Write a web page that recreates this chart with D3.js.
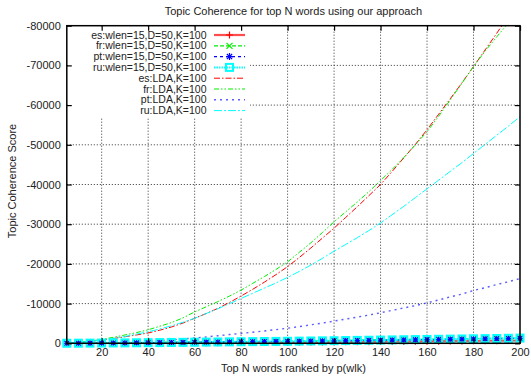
<!DOCTYPE html>
<html>
<head>
<meta charset="utf-8">
<script src="https://cdn.jsdelivr.net/npm/d3@7"></script>
<style>
body { margin: 0; background: #fff; }
text { font-family: "Liberation Sans", Arial, sans-serif; fill: #222; }
</style>
</head>
<body>
<script>
const w = 531;
const h = 377;

// data (x = top N words, every 5)
const topN = [5,10,15,20,25,30,35,40,45,50,55,60,65,70,75,80,85,90,95,100,
	105,110,115,120,125,130,135,140,145,150,155,160,165,170,175,180,185,190,195,200];

const esWlen = [-5,-10,-20,-30,-40,-50,-60,-75,-90,-105,-120,-135,-150,-165,-180,-195,-210,-230,-250,-270,
	-290,-310,-330,-350,-370,-390,-410,-430,-450,-475,-500,-520,-545,-570,-595,-620,-645,-670,-690,-710];
const frWlen = [-10,-25,-45,-70,-95,-120,-145,-170,-200,-230,-260,-290,-320,-350,-385,-420,-455,-490,-525,-560,
	-595,-630,-670,-710,-750,-790,-830,-870,-910,-950,-990,-1030,-1070,-1110,-1150,-1190,-1230,-1270,-1310,-1350];
const ptWlen = [-10,-20,-40,-60,-80,-100,-125,-150,-175,-200,-230,-260,-290,-320,-350,-380,-410,-440,-470,-500,
	-530,-565,-600,-635,-670,-705,-740,-775,-810,-845,-880,-920,-960,-1000,-1040,-1080,-1120,-1160,-1200,-1240];
const ruWlen = [-10,-25,-45,-65,-85,-105,-130,-155,-180,-210,-240,-270,-300,-330,-360,-390,-420,-450,-480,-510,
	-545,-580,-615,-650,-690,-730,-770,-810,-850,-890,-930,-970,-1010,-1050,-1090,-1130,-1170,-1210,-1260,-1310];

const esLDA = [-50,-180,-420,-800,-1200,-1650,-2100,-2600,-3300,-4100,-5100,-6300,-7500,-8800,-10300,-11900,-13600,-15400,-17300,-19300,
	-21600,-24000,-26500,-29000,-31700,-34400,-37200,-40000,-43300,-46700,-50100,-53800,-57700,-61600,-65600,-69700,-73900,-78100,-82400,-86800];
const frLDA = [-60,-250,-550,-1000,-1500,-2100,-2700,-3400,-4300,-5200,-6400,-7900,-9200,-10500,-11900,-13400,-15100,-16800,-18600,-20500,
	-22900,-25300,-27900,-30600,-33100,-35600,-38200,-41000,-43800,-46800,-50000,-53300,-57200,-61300,-65500,-69700,-73600,-77200,-80700,-84300];
const ptLDA = [-10,-30,-70,-130,-200,-300,-420,-560,-720,-900,-1100,-1350,-1600,-1900,-2200,-2500,-2800,-3100,-3450,-3800,
	-4200,-4650,-5100,-5600,-6100,-6600,-7100,-7700,-8300,-8900,-9500,-10200,-10900,-11700,-12400,-13300,-14000,-14800,-15500,-16300];
const ruLDA = [-50,-200,-450,-800,-1200,-1700,-2300,-2900,-3600,-4400,-5300,-6300,-7500,-8700,-10000,-11300,-12600,-13900,-15200,-16600,
	-18100,-19700,-21400,-23200,-24900,-26600,-28400,-30300,-32400,-34500,-36700,-38900,-41100,-43300,-45500,-47800,-50100,-52400,-54700,-57100];

const xTicks = [20,40,60,80,100,120,140,160,180,200];
const yTicks = [0,-10000,-20000,-30000,-40000,-50000,-60000,-70000,-80000];

const series = [
	{ name: 'es:wlen=15,D=50,K=100', values: esWlen, color: '#ff0000', width: 2.2, opacity: 0.7, dash: null, marker: 'plus' },
	{ name: 'fr:wlen=15,D=50,K=100', values: frWlen, color: '#00ee00', width: 1.2, opacity: 1, dash: '4,2', marker: 'cross' },
	{ name: 'pt:wlen=15,D=50,K=100', values: ptWlen, color: '#0000ff', width: 1.2, opacity: 1, dash: '3,3', marker: 'star' },
	{ name: 'ru:wlen=15,D=50,K=100', values: ruWlen, color: '#00ffff', width: 2, opacity: 1, dash: '1.5,1', marker: 'square' },
	{ name: 'es:LDA,K=100', values: esLDA, color: '#ff0000', width: 1, opacity: 1, dash: '6,2,1.5,2', marker: null },
	{ name: 'fr:LDA,K=100', values: frLDA, color: '#00ee00', width: 1, opacity: 1, dash: '5,2,1.5,2,1.5,2', marker: null },
	{ name: 'pt:LDA,K=100', values: ptLDA, color: '#3333ff', width: 1.4, opacity: 0.8, dash: '2,4', marker: null },
	{ name: 'ru:LDA,K=100', values: ruLDA, color: '#00ffff', width: 1, opacity: 1, dash: '8,2,2,2', marker: null }
];

const plotL = 66.8, plotR = 520, plotT = 25.7, plotB = 343.3;

const x = d3.scaleLinear().domain([5, 200]).range([plotL, plotR]);
const y = d3.scaleLinear().domain([0, -80000]).range([plotB, plotT]);

const svg = d3.select('body').append('svg')
	.attr('width', w)
	.attr('height', h);

svg.append('defs').append('clipPath')
	.attr('id', 'plot-clip')
	.append('rect')
	.attr('x', plotL)
	.attr('y', plotT)
	.attr('width', plotR - plotL)
	.attr('height', plotB - plotT);

// grid
const grid = svg.append('g');
grid.selectAll('.vgrid')
	.data(xTicks.filter(d => d < 200))
	.enter()
	.append('line')
	.attr('x1', d => x(d))
	.attr('x2', d => x(d))
	.attr('y1', plotT)
	.attr('y2', plotB)
	.attr('stroke', '#333')
	.attr('stroke-width', 1)
	.attr('stroke-dasharray', '1,2');
grid.selectAll('.hgrid')
	.data(yTicks.filter(d => d !== 0 && d !== -80000))
	.enter()
	.append('line')
	.attr('x1', plotL)
	.attr('x2', plotR)
	.attr('y1', d => y(d))
	.attr('y2', d => y(d))
	.attr('stroke', '#333')
	.attr('stroke-width', 1)
	.attr('stroke-dasharray', '1,2');

// legend background hides grid behind it
svg.append('rect')
	.attr('x', plotL + 1)
	.attr('y', plotT + 1)
	.attr('width', 249 - plotL)
	.attr('height', 116 - plotT)
	.attr('fill', '#fff');

function drawMarker(g, type, cx, cy, color) {
	const s = 3.5;
	if (type === 'plus' || type === 'star') {
		g.append('path')
			.attr('d', `M${cx - s},${cy}H${cx + s}M${cx},${cy - s}V${cy + s}`)
			.attr('stroke', color).attr('stroke-width', 1.2).attr('fill', 'none');
	}
	if (type === 'cross' || type === 'star') {
		const k = type === 'star' ? 2.6 : 3;
		g.append('path')
			.attr('d', `M${cx - k},${cy - k}L${cx + k},${cy + k}M${cx - k},${cy + k}L${cx + k},${cy - k}`)
			.attr('stroke', color).attr('stroke-width', 1.2).attr('fill', 'none');
	}
	if (type === 'square') {
		g.append('rect')
			.attr('x', cx - 3.5).attr('y', cy - 3.5)
			.attr('width', 7).attr('height', 7)
			.attr('fill', 'none')
			.attr('stroke', color).attr('stroke-width', 2);
	}
}

const line = d3.line()
	.x((d, i) => x(topN[i]))
	.y(d => y(d));

const plot = svg.append('g').attr('clip-path', 'url(#plot-clip)');

series.forEach(s => {
	plot.append('path')
		.datum(s.values)
		.attr('d', line)
		.attr('fill', 'none')
		.attr('stroke', s.color)
		.attr('stroke-width', s.width)
		.attr('stroke-opacity', s.opacity)
		.attr('stroke-dasharray', s.dash);
	if (s.marker) {
		const mg = svg.append('g');
		s.values.forEach((v, i) => drawMarker(mg, s.marker, x(topN[i]), y(v), s.color));
	}
});

// legend
const legend = svg.append('g').attr('id', 'legend');
series.forEach((s, i) => {
	const ly = 35 + i * 10.8;
	legend.append('text')
		.attr('x', 206.5)
		.attr('y', ly)
		.attr('dy', '0.35em')
		.attr('text-anchor', 'end')
		.style('font-size', '10.5px')
		.text(s.name);
	legend.append('line')
		.attr('x1', 214)
		.attr('x2', 245)
		.attr('y1', ly)
		.attr('y2', ly)
		.attr('stroke', s.color)
		.attr('stroke-width', s.width)
		.attr('stroke-opacity', s.opacity)
		.attr('stroke-dasharray', s.dash);
	if (s.marker) drawMarker(legend, s.marker, 229.5, ly, s.color);
});

// axes (inward ticks, mirrored)
const fmt = d => String(d);
svg.append('g')
	.attr('transform', `translate(0,${plotB})`)
	.call(d3.axisBottom(x).tickValues(xTicks).tickSize(-5).tickPadding(5).tickFormat(fmt))
	.call(g => g.select('.domain').remove())
	.call(g => g.selectAll('text').style('font-size', '11px').attr('fill', '#222'));
svg.append('g')
	.attr('transform', `translate(0,${plotT})`)
	.call(d3.axisTop(x).tickValues(xTicks).tickSize(-5).tickFormat(''))
	.call(g => g.select('.domain').remove());
svg.append('g')
	.attr('transform', `translate(${plotL},0)`)
	.call(d3.axisLeft(y).tickValues(yTicks).tickSize(-5).tickPadding(6).tickFormat(fmt))
	.call(g => g.select('.domain').remove())
	.call(g => g.selectAll('text').style('font-size', '11px').attr('fill', '#222'));
svg.append('g')
	.attr('transform', `translate(${plotR},0)`)
	.call(d3.axisRight(y).tickValues(yTicks).tickSize(-5).tickFormat(''))
	.call(g => g.select('.domain').remove());

svg.selectAll('.tick line').attr('stroke', '#000').attr('stroke-width', 1.2);

svg.append('rect')
	.attr('x', plotL)
	.attr('y', plotT)
	.attr('width', plotR - plotL)
	.attr('height', plotB - plotT)
	.attr('fill', 'none')
	.attr('stroke', '#000')
	.attr('stroke-width', 1.5);

// titles
svg.append('text')
	.attr('x', (plotL + plotR) / 2)
	.attr('y', 15)
	.attr('text-anchor', 'middle')
	.style('font-size', '11px')
	.text('Topic Coherence for top N words using our approach');

svg.append('text')
	.attr('x', (plotL + plotR) / 2)
	.attr('y', 372)
	.attr('text-anchor', 'middle')
	.style('font-size', '11px')
	.text('Top N words ranked by p(wlk)');

svg.append('text')
	.attr('transform', 'translate(15.5,181) rotate(-90)')
	.attr('text-anchor', 'middle')
	.style('font-size', '11px')
	.text('Topic Coherence Score');
</script>
</body>
</html>
